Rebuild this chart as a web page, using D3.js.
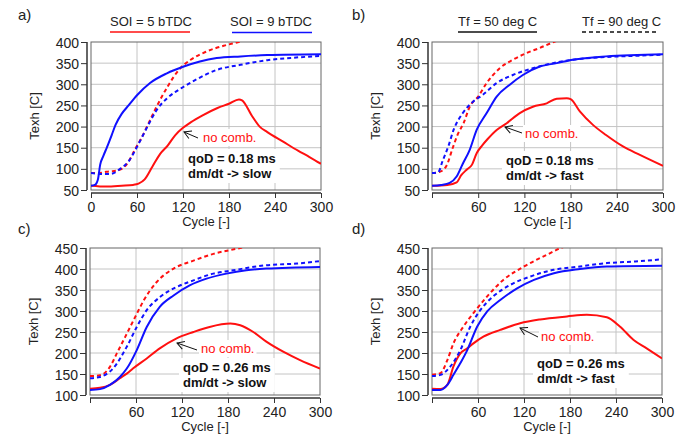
<!DOCTYPE html>
<html>
<head>
<meta charset="utf-8">
<script src="https://cdn.jsdelivr.net/npm/d3@7"></script>
<style>
body { margin: 0; background: #fff; }
svg { font-family: "Liberation Sans", Arial, sans-serif; }
.tick-label { font-size: 14px; fill: #222; }
</style>
</head>
<body>
<div id="chart"></div>
<script>
// tick values
var cycleTicks = [0, 60, 120, 180, 240, 300];
var tempTicksTop = [50, 100, 150, 200, 250, 300, 350, 400];
var tempTicksBottom = [100, 150, 200, 250, 300, 350, 400, 450];

// [cycle, Texh]
// a) qoD = 0.18 ms, slow
var aRedSolid = [[0,60],[20,58],[40,60],[55,62],[62,65],[70,75],[80,105],[90,135],[100,155],[110,180],[120,197],[130,210],[145,226],[165,244],[180,254],[193,264],[197,262],[210,225],[220,200],[230,187],[250,165],[270,143],[285,128],[300,112]];
var aRedDash = [[0,90],[10,90],[20,93],[30,95],[40,100],[50,120],[57,145],[65,170],[73,200],[85,245],[100,295],[115,335],[130,358],[150,377],[175,392],[195,401],[210,410]];
var aBlueSolid = [[0,60],[5,62],[9,75],[12,110],[16,130],[21,152],[27,180],[32,204],[40,230],[49,250],[60,274],[77,303],[99,326],[121,342],[142,354],[164,362],[195,366],[230,369],[300,371]];
var aBlueDash = [[0,90],[12,88],[25,88],[38,100],[50,120],[58,145],[68,180],[78,215],[86,240],[100,268],[118,291],[138,312],[164,334],[195,346],[230,357],[265,363],[300,367]];

// b) qoD = 0.18 ms, fast
var bRedSolid = [[0,60],[20,62],[32,68],[38,85],[45,98],[52,110],[58,137],[65,155],[72,170],[84,192],[97,208],[114,232],[131,247],[149,255],[162,266],[175,267],[180,265],[192,236],[209,204],[226,180],[248,153],[270,133],[300,107]];
var bRedDash = [[0,90],[10,93],[19,108],[27,150],[34,184],[41,208],[49,247],[60,271],[71,303],[88,338],[105,358],[123,374],[140,386],[158,400],[170,408]];
var bBlueSolid = [[0,60],[12,62],[23,67],[32,82],[40,112],[49,145],[58,192],[71,232],[84,271],[101,299],[118,322],[140,342],[162,350],[183,358],[226,366],[300,371]];
var bBlueDash = [[0,90],[8,92],[14,120],[21,152],[28,192],[40,232],[54,260],[66,275],[84,303],[105,322],[131,338],[157,350],[183,358],[220,364],[260,367],[300,370]];

// c) qoD = 0.26 ms, slow
var cRedSolid = [[0,115],[13,117],[26,124],[39,140],[48,151],[56,163],[74,187],[91,211],[113,235],[135,250],[156,262],[183,270],[196,266],[213,250],[230,227],[252,203],[274,183],[300,163]];
var cRedDash = [[0,145],[13,147],[26,167],[35,199],[48,246],[59,286],[70,325],[87,369],[109,401],[135,420],[161,436],[196,450],[210,456]];
var cBlueSolid = [[0,112],[13,114],[26,124],[39,143],[48,163],[61,207],[74,262],[91,310],[109,337],[130,361],[152,377],[178,389],[204,397],[230,401],[300,405]];
var cBlueDash = [[0,140],[13,143],[30,163],[48,215],[61,262],[74,302],[91,333],[113,357],[135,373],[161,389],[187,397],[230,409],[270,413],[300,419]];

// d) qoD = 0.26 ms, fast
var dRedSolid = [[0,115],[11,114],[20,124],[28,168],[37,199],[46,211],[54,223],[67,239],[89,255],[115,271],[141,280],[176,287],[202,291],[228,285],[245,263],[263,231],[280,211],[300,187]];
var dRedDash = [[0,148],[11,152],[20,183],[28,223],[41,263],[54,295],[72,335],[93,374],[120,406],[150,434],[168,450],[180,457]];
var dBlueSolid = [[0,112],[11,112],[20,124],[28,148],[37,176],[46,207],[59,263],[72,299],[89,326],[111,354],[133,374],[159,390],[193,400],[228,406],[300,408]];
var dBlueDash = [[0,145],[11,148],[24,168],[37,207],[50,263],[63,302],[80,335],[102,362],[128,382],[159,398],[193,406],[228,414],[265,418],[300,423]];

var panelLetters = ["a)", "b)", "c)", "d)"];
var qodLabels = ["qoD = 0.18 ms", "qoD = 0.18 ms", "qoD = 0.26 ms", "qoD = 0.26 ms"];
var dmdtLabels = ["dm/dt -> slow", "dm/dt -> fast", "dm/dt -> slow", "dm/dt -> fast"];
var legendSoi = ["SOI = 5 bTDC", "SOI = 9 bTDC"];
var legendTf = ["Tf = 50 deg C", "Tf = 90 deg C"];

var RED = "#ff1010", BLUE = "#1010ff";

var svg = d3.select("#chart").append("svg")
    .attr("width", 687).attr("height", 438);

var defs = svg.append("defs");
defs.append("marker")
    .attr("id", "openArrow")
    .attr("viewBox", "-8 -5 10 10")
    .attr("markerWidth", 10).attr("markerHeight", 10)
    .attr("markerUnits", "userSpaceOnUse")
    .attr("orient", "auto")
    .append("path")
    .attr("d", "M-7,-4L0,0L-7,4")
    .attr("fill", "none")
    .attr("stroke", "#111")
    .attr("stroke-width", 1);

// layout of each panel (pixels) + annotation offsets inside the plot
var panels = [
    {left: 91, top: 42, w: 230, h: 148, yTicks: tempTicksTop, label0: true,
     series: [aRedSolid, aRedDash, aBlueSolid, aBlueDash],
     noComb: [112, 100], arrow: [107, 96, 93, 90], qod: [97, 121]},
    {left: 432, top: 42, w: 231, h: 148, yTicks: tempTicksTop, label0: false,
     series: [bRedSolid, bRedDash, bBlueSolid, bBlueDash],
     noComb: [93, 96], arrow: [90, 91, 73, 85], qod: [74, 123]},
    {left: 90, top: 248, w: 230, h: 147, yTicks: tempTicksBottom, label0: false,
     series: [cRedSolid, cRedDash, cBlueSolid, cBlueDash],
     noComb: [111, 105], arrow: [107, 102, 87, 95], qod: [93, 124]},
    {left: 432, top: 248, w: 230, h: 147, yTicks: tempTicksBottom, label0: false,
     series: [dRedSolid, dRedDash, dBlueSolid, dBlueDash],
     noComb: [109, 93], arrow: [106, 89, 88, 80], qod: [105, 120]}
];

var seriesStyle = [
    {color: RED, dash: null},
    {color: RED, dash: "4,3"},
    {color: BLUE, dash: null},
    {color: BLUE, dash: "4,3"}
];

function whiteBox(g, textSel, pad) {
    var bb = textSel.node().getBBox();
    g.insert("rect", function() { return textSel.node(); })
        .attr("x", bb.x - pad).attr("y", bb.y - pad + 1)
        .attr("width", bb.width + pad * 2).attr("height", bb.height + pad * 2 - 2)
        .attr("fill", "#fff");
}

panels.forEach(function(p, i) {
    var yMin = p.yTicks[0], yMax = p.yTicks[p.yTicks.length - 1];
    var x = d3.scaleLinear().domain([0, 300]).range([0, p.w]);
    var y = d3.scaleLinear().domain([yMin, yMax]).range([p.h, 0]);

    var g = svg.append("g").attr("transform", "translate(" + p.left + "," + p.top + ")");

    // grid
    g.append("g").selectAll("line").data(cycleTicks.slice(1, -1)).enter().append("line")
        .attr("x1", function(d) { return x(d); }).attr("x2", function(d) { return x(d); })
        .attr("y1", 0).attr("y2", p.h)
        .attr("stroke", "#c4c4c4").attr("stroke-width", 1);
    g.append("g").selectAll("line").data(p.yTicks.slice(1, -1)).enter().append("line")
        .attr("y1", function(d) { return y(d); }).attr("y2", function(d) { return y(d); })
        .attr("x1", 0).attr("x2", p.w)
        .attr("stroke", "#c4c4c4").attr("stroke-width", 1);

    // frame
    g.append("rect").attr("x", 0).attr("y", 0).attr("width", p.w).attr("height", p.h)
        .attr("fill", "none").attr("stroke", "#666").attr("stroke-width", 1);

    // annotations with white backgrounds (below curves)
    var ann = g.append("g");
    var t1 = ann.append("text").attr("x", p.qod[0]).attr("y", p.qod[1])
        .style("font-size", "13px").style("font-weight", "bold").attr("fill", "#111")
        .text(qodLabels[i]);
    var t2 = ann.append("text").attr("x", p.qod[0]).attr("y", p.qod[1] + 15)
        .style("font-size", "13px").style("font-weight", "bold").attr("fill", "#111")
        .text(dmdtLabels[i]);
    var b1 = t1.node().getBBox(), b2 = t2.node().getBBox();
    ann.insert("rect", "text")
        .attr("x", Math.min(b1.x, b2.x) - 4).attr("y", b1.y - 2)
        .attr("width", Math.max(b1.width, b2.width) + 8)
        .attr("height", b2.y + b2.height - b1.y + 4)
        .attr("fill", "#fff");
    var nc = ann.append("text").attr("x", p.noComb[0]).attr("y", p.noComb[1])
        .style("font-size", "13px").attr("fill", RED).text("no comb.");
    whiteBox(ann, nc, 2);

    // curves
    var line = d3.line()
        .x(function(d) { return x(d[0]); })
        .y(function(d) { return y(d[1]); })
        .curve(d3.curveMonotoneX);
    var clipId = "clip" + i;
    defs.append("clipPath").attr("id", clipId).append("rect")
        .attr("x", 0).attr("y", 0).attr("width", p.w).attr("height", p.h);
    var curves = g.append("g").attr("clip-path", "url(#" + clipId + ")");
    p.series.forEach(function(s, k) {
        curves.append("path")
            .datum(s)
            .attr("d", line)
            .attr("fill", "none")
            .attr("stroke", seriesStyle[k].color)
            .attr("stroke-width", 2)
            .attr("stroke-dasharray", seriesStyle[k].dash);
    });

    // arrow pointing at the no-combustion curve
    g.append("line")
        .attr("x1", p.arrow[0]).attr("y1", p.arrow[1])
        .attr("x2", p.arrow[2]).attr("y2", p.arrow[3])
        .attr("stroke", "#111").attr("stroke-width", 1)
        .attr("marker-end", "url(#openArrow)");

    // y axis, a bit left of the frame
    var yAxis = d3.axisLeft(y).tickValues(p.yTicks).tickSize(6).tickPadding(2);
    var ya = g.append("g").attr("transform", "translate(-4,0)").call(yAxis);
    ya.select(".domain").attr("d", "M0,0V" + p.h).attr("stroke", "#333").attr("stroke-width", 1.5);
    ya.selectAll(".tick line").attr("stroke", "#333");
    ya.selectAll("text").attr("class", "tick-label").attr("dy", "0.36em");

    // x axis, a bit below the frame
    var xAxis = d3.axisBottom(x).tickValues(cycleTicks).tickSize(5).tickPadding(4)
        .tickFormat(function(d) { return (d === 0 && !p.label0) ? "" : d; });
    var xa = g.append("g").attr("transform", "translate(0," + (p.h + 3) + ")").call(xAxis);
    xa.select(".domain").attr("d", "M0,0H" + p.w).attr("stroke", "#333").attr("stroke-width", 1.5);
    xa.selectAll(".tick line").attr("stroke", "#333");
    xa.selectAll("text").attr("class", "tick-label");

    // axis titles
    g.append("text")
        .attr("transform", "translate(" + (-52) + "," + (p.h / 2) + ") rotate(-90)")
        .attr("text-anchor", "middle")
        .style("font-size", "13px").attr("fill", "#222")
        .text("Texh [C]");
    g.append("text")
        .attr("x", p.w / 2).attr("y", p.h + 36)
        .attr("text-anchor", "middle")
        .style("font-size", "13px").attr("fill", "#222")
        .text("Cycle [-]");

    // panel letter
    svg.append("text")
        .attr("x", i % 2 === 0 ? 18 : 352)
        .attr("y", i < 2 ? 20 : 234)
        .style("font-size", "15px").attr("fill", "#222")
        .text(panelLetters[i]);
});

// legends above the top panels
var leg = svg.append("g").style("font-size", "13px").attr("fill", "#222");
leg.append("text").attr("x", 110).attr("y", 26).text(legendSoi[0]);
leg.append("line").attr("x1", 110).attr("x2", 190).attr("y1", 32).attr("y2", 32)
    .attr("stroke", RED).attr("stroke-width", 1.3);
leg.append("text").attr("x", 230).attr("y", 26).text(legendSoi[1]);
leg.append("line").attr("x1", 232).attr("x2", 312).attr("y1", 32.5).attr("y2", 32.5)
    .attr("stroke", BLUE).attr("stroke-width", 1.3);
leg.append("text").attr("x", 458).attr("y", 26).text(legendTf[0]);
leg.append("line").attr("x1", 458).attr("x2", 537).attr("y1", 32).attr("y2", 32)
    .attr("stroke", "#111").attr("stroke-width", 1.3);
leg.append("text").attr("x", 582).attr("y", 26).text(legendTf[1]);
leg.append("line").attr("x1", 582).attr("x2", 656).attr("y1", 32).attr("y2", 32)
    .attr("stroke", "#111").attr("stroke-width", 1.3).attr("stroke-dasharray", "4,3");
</script>
</body>
</html>
